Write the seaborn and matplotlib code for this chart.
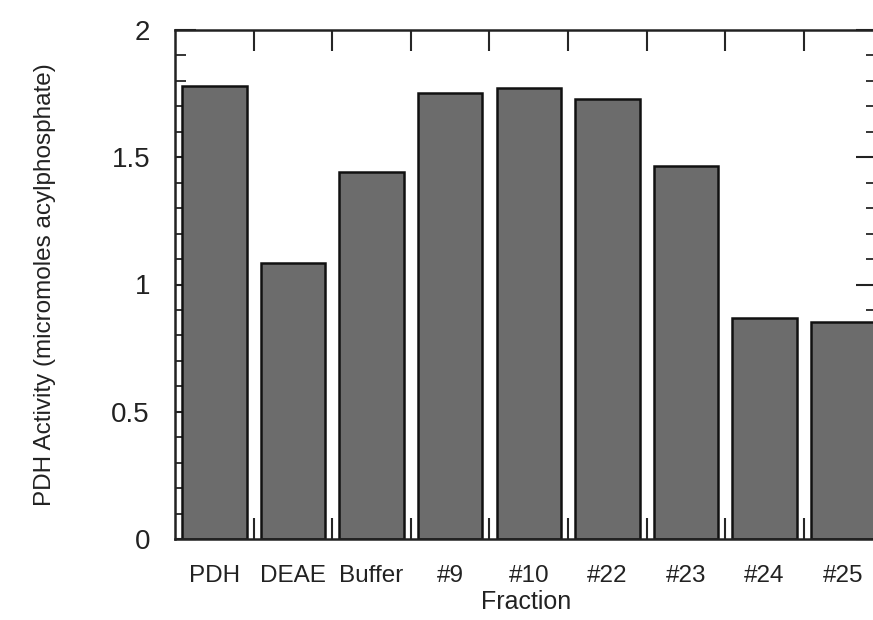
import matplotlib
matplotlib.use("Agg")
import matplotlib.pyplot as plt
import seaborn as sns
import pandas as pd
import numpy as np
from matplotlib.ticker import MultipleLocator, FixedLocator

fractions = ["PDH", "DEAE", "Buffer", "#9", "#10", "#22", "#23", "#24", "#25"]
activity = [1.78, 1.086, 1.444, 1.751, 1.773, 1.730, 1.466, 0.867, 0.854]
y_ticks = [0, 0.5, 1, 1.5, 2]
y_tick_labels = ["0", "0.5", "1", "1.5", "2"]

sns.set_style("white")
plt.rcParams['font.family'] = ['Liberation Sans', 'DejaVu Sans']

df = pd.DataFrame({"Fraction": fractions, "Activity": activity})

fig = plt.figure(figsize=(8.73, 6.20), dpi=100)
ax = fig.add_axes([175/873, (620-539)/620, (877-175)/873, (539-30)/620])

sns.barplot(data=df, x="Fraction", y="Activity", ax=ax, color="#6c6c6c",
            saturation=1, width=0.82, edgecolor="#111111", linewidth=1.8)

ax.set_xlim(-0.5, 8.43)
ax.set_ylim(0, 2)
ax.set_yticks(y_ticks)
ax.set_yticklabels(y_tick_labels)
ax.yaxis.set_minor_locator(MultipleLocator(0.1))
ax.xaxis.set_minor_locator(FixedLocator(np.arange(0.5, len(fractions) - 0.5, 1.0)))

ax.tick_params(axis="y", which="major", direction="in", length=15, width=1.5,
               left=True, right=True, labelsize=20, pad=18, colors="#222222")
ax.tick_params(axis="y", which="minor", direction="in", length=8, width=1.3,
               left=True, right=True)
ax.tick_params(axis="x", which="major", length=0, labelsize=17.5, pad=19,
               colors="#222222")
ax.tick_params(axis="x", which="minor", direction="in", length=15, width=1.5,
               top=True, bottom=True)

for s in ax.spines.values():
    s.set_linewidth(1.8)
    s.set_color("#222222")

ax.set_xlabel("Fraction", fontsize=18, labelpad=2, color="#222222")
ax.set_ylabel("PDH Activity (micromoles acylphosphate)", fontsize=17.5,
              labelpad=40, color="#222222")

fig.savefig("out.png", dpi=100)
